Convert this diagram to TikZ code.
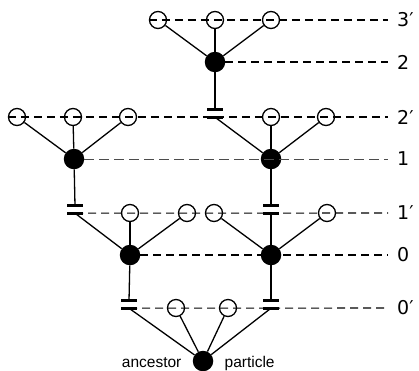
\documentclass[tikz,border=0pt]{standalone}
\usepackage{fontspec}
\newfontfamily\levelfont{DejaVu Sans}
\newfontfamily\notefont{Liberation Sans}
\begin{document}
\begin{tikzpicture}[x=1pt,y=-1pt,
  open/.style={circle,draw,line width=1.3pt,minimum size=17pt,inner sep=0pt},
  full/.style={circle,fill,minimum size=20.5pt,inner sep=0pt},
  cut/.style={inner sep=0pt,minimum width=15pt,minimum height=7pt},
  barline/.style={line width=3pt},
  link/.style={line width=1.3pt},
  level/.style={dash pattern=on 8pt off 5pt,line width=1.1pt},
  thinlevel/.style={dash pattern=on 10pt off 5pt,line width=0.8pt,black!70},
  lab/.style={anchor=west,inner xsep=9pt,font=\levelfont\fontsize{19}{19}\selectfont},
  note/.style={inner sep=0pt,font=\notefont\fontsize{15.5}{15.5}\selectfont}]
\useasboundingbox (0,0) rectangle (419,370);

% level labels
\node[lab] (L3p) at (388,20)  {3′};
\node[lab] (L2)  at (388,62)  {2};
\node[lab] (L2p) at (388,117) {2′};
\node[lab] (L1)  at (388,159) {1};
\node[lab] (L1p) at (388,213) {1′};
\node[lab] (L0)  at (388,255) {0};
\node[lab] (L0p) at (388,308) {0′};

% generation 3'
\node[open] (c3a) at (158,20) {};
\node[open] (c3b) at (215,20) {};
\node[open] (c3c) at (271,20) {};
% generation 2
\node[full] (B2) at (215,62) {};
% generation 2'
\node[open] (c2a) at (17,117) {};
\node[open] (c2b) at (73,117) {};
\node[open] (c2c) at (128,117) {};
\node[cut]  (k2)  at (215,113.5) {};
\node[open] (c2d) at (271,117) {};
\node[open] (c2e) at (326,117) {};
% generation 1
\node[full] (B1L) at (74,159) {};
\node[full] (B1R) at (271,159) {};
% generation 1'
\node[cut]  (k1L) at (75,209.5) {};
\node[open] (c1a) at (130,213) {};
\node[open] (c1b) at (187,213) {};
\node[open] (c1c) at (214,213) {};
\node[cut]  (k1R) at (271,209.5) {};
\node[open] (c1d) at (327,213) {};
% generation 0
\node[full] (B0L) at (130,255) {};
\node[full] (B0R) at (271,255) {};
% generation 0'
\node[cut]  (k0L) at (129,304.5) {};
\node[open] (c0a) at (176,308) {};
\node[open] (c0b) at (228,308) {};
\node[cut]  (k0R) at (271,304.5) {};
% ancestor particle
\node[full] (root) at (203,361) {};
\node[note,anchor=east] (anc) at ([xshift=-11pt,yshift=-2pt]root.west) {ancestor};
\node[note,anchor=west] (par) at ([xshift=11pt,yshift=-2pt]root.east) {particle};

% level lines
\draw[level] (c3a.west) -- (L3p.west);
\draw[level] (B2.east) -- (L2.west);
\draw[level] (c2a.west) -- (L2p.west);
\draw[thinlevel] (B1L.east) -- (L1.west);
\draw[level] (k1L.south) -- (L1p.west);
\draw[level] (B0L.east) -- (L0.west);
\draw[level] (k0L.south) -- (L0p.west);

% cut marks
\foreach \k in {k2,k1L,k1R,k0L,k0R}{
  \draw[barline] (\k.north west) -- (\k.north east);
  \draw[barline] (\k.south west) -- (\k.south east);
}

% family links
\draw[link] (B2) -- (c3a);
\draw[link] (B2) -- (c3b);
\draw[link] (B2) -- (c3c);
\draw[link] (B2) -- (k2.north);
\draw[link] (B1L) -- (c2a);
\draw[link] (B1L) -- (c2b);
\draw[link] (B1L) -- (c2c);
\draw[link] (B1R) -- (k2.south);
\draw[link] (B1R) -- (c2d);
\draw[link] (B1R) -- (c2e);
\draw[link] (B1L) -- (k1L.north);
\draw[link] (B1R) -- (k1R.north);
\draw[link] (B0L) -- (k1L.south);
\draw[link] (B0L) -- (c1a);
\draw[link] (B0L) -- (c1b);
\draw[link] (B0R) -- (c1c);
\draw[link] (B0R) -- (k1R.south);
\draw[link] (B0R) -- (c1d);
\draw[link] (B0L) -- (k0L.north);
\draw[link] (B0R) -- (k0R.north);
\draw[link] (root) -- (k0L.south);
\draw[link] (root) -- (c0a);
\draw[link] (root) -- (c0b);
\draw[link] (root) -- (k0R.south);
\end{tikzpicture}
\end{document}
